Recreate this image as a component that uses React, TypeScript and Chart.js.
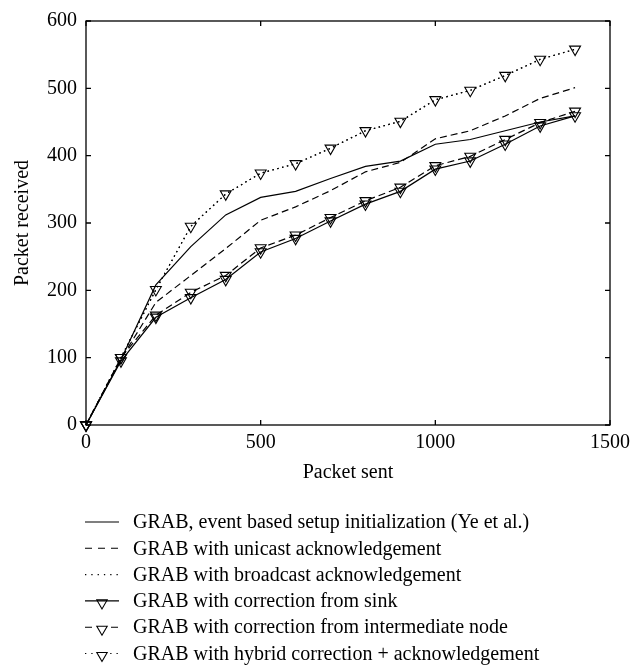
import { useEffect, useRef } from "react";
import { Chart, registerables } from "chart.js";

Chart.register(...registerables);

const packetsSent = [0, 100, 200, 300, 400, 500, 600, 700, 800, 900, 1000, 1100, 1200, 1300, 1400];
const eventBased = [0, 97, 208, 265, 312, 338, 347, 366, 384, 392, 417, 424, 437, 450, 459];
const unicastAck = [0, 98, 182, 222, 262, 304, 324, 348, 376, 390, 425, 437, 459, 485, 501];
const broadcastAck = [0, 100, 201, 295, 343, 374, 388, 411, 437, 451, 483, 497, 519, 543, 558];
const sinkCorrection = [0, 95, 160, 189, 216, 257, 277, 303, 328, 347, 380, 392, 417, 444, 459];
const intermediateCorrection = [0, 100, 163, 197, 222, 263, 282, 308, 333, 353, 385, 399, 424, 449, 466];
const hybridCorrection = [0, 100, 201, 295, 343, 374, 388, 411, 437, 451, 483, 497, 519, 543, 558];

const xTicks = [0, 500, 1000, 1500];
const yTicks = [0, 100, 200, 300, 400, 500, 600];

const seriesLabels = [
  "GRAB, event based setup initialization (Ye et al.)",
  "GRAB with unicast acknowledgement",
  "GRAB with broadcast acknowledgement",
  "GRAB with correction from sink",
  "GRAB with correction from intermediate node",
  "GRAB with hybrid correction + acknowledgement",
];

const FONT = '"Liberation Serif", "Times New Roman", serif';
const FONT_SIZE = 20;
const DASH = [7, 4];
const DOT = [1.5, 3.5];
const NONE: number[] = [];
const LEGEND_DASH = [7, 6];
const LEGEND_DOT = [1.3, 5];

function drawTriangle(ctx: CanvasRenderingContext2D, cx: number, cy: number, r: number) {
  ctx.beginPath();
  ctx.moveTo(cx, cy + r);
  ctx.lineTo(cx - r * 0.866, cy - r * 0.5);
  ctx.lineTo(cx + r * 0.866, cy - r * 0.5);
  ctx.closePath();
  ctx.stroke();
}

const framePlugin = {
  id: "frameTicks",
  afterDraw(chart: any) {
    const { ctx, chartArea, scales } = chart;
    const { left, right, top, bottom } = chartArea;
    ctx.save();
    ctx.strokeStyle = "#000";
    ctx.lineWidth = 1.3;
    ctx.setLineDash([]);
    ctx.strokeRect(left, top, right - left, bottom - top);
    const tl = 5;
    ctx.beginPath();
    for (const v of xTicks) {
      const px = scales.x.getPixelForValue(v);
      ctx.moveTo(px, bottom);
      ctx.lineTo(px, bottom - tl);
      ctx.moveTo(px, top);
      ctx.lineTo(px, top + tl);
    }
    for (const v of yTicks) {
      const py = scales.y.getPixelForValue(v);
      ctx.moveTo(left, py);
      ctx.lineTo(left + tl, py);
      ctx.moveTo(right, py);
      ctx.lineTo(right - tl, py);
    }
    ctx.stroke();

    // legend
    const x0 = 85;
    const x1 = 119;
    const tx = 133;
    const y0 = 522;
    const gap = 26.3;
    ctx.font = `${FONT_SIZE}px ${FONT}`;
    ctx.textBaseline = "middle";
    ctx.fillStyle = "#000";
    chart.data.datasets.forEach((ds: any, i: number) => {
      const y = y0 + i * gap;
      ctx.lineWidth = 1.1;
      ctx.setLineDash(ds.legendDash || []);
      ctx.beginPath();
      ctx.moveTo(x0, y);
      ctx.lineTo(x1, y);
      ctx.stroke();
      ctx.setLineDash([]);
      if (ds.pointRadius > 0) {
        const cx = (x0 + x1) / 2;
        if ((ds.legendDash || []).length) {
          ctx.fillStyle = "#fff";
          ctx.fillRect(cx - 6, y - 2, 12, 8);
          ctx.fillStyle = "#000";
        }
        drawTriangle(ctx, cx, y + 2, 6);
      }
      ctx.fillText(ds.label, tx, y + 1);
    });
    ctx.restore();
  },
};

export default function App() {
  const ref = useRef<HTMLCanvasElement>(null);

  useEffect(() => {
    if (!ref.current) return;
    const mk = (label: string, values: number[], dash: number[], legendDash: number[], marker: boolean) => ({
      label,
      data: packetsSent.map((x, i) => ({ x, y: values[i] })),
      borderColor: "#000",
      borderWidth: 1.2,
      borderDash: dash,
      legendDash,
      pointStyle: "triangle",
      pointRotation: 180,
      pointRadius: marker ? 6.3 : 0,
      pointHoverRadius: marker ? 6.3 : 0,
      pointBorderColor: "#000",
      pointBackgroundColor: "rgba(0,0,0,0)",
      pointBorderWidth: 1.1,
      fill: false,
      tension: 0,
      clip: false,
    });

    const tickFont = { family: FONT, size: FONT_SIZE };

    const chart = new Chart(ref.current, {
      type: "line",
      data: {
        datasets: [
          mk(seriesLabels[0], eventBased, NONE, NONE, false),
          mk(seriesLabels[1], unicastAck, DASH, LEGEND_DASH, false),
          mk(seriesLabels[2], broadcastAck, DOT, LEGEND_DOT, false),
          mk(seriesLabels[3], sinkCorrection, NONE, NONE, true),
          mk(seriesLabels[4], intermediateCorrection, DASH, LEGEND_DASH, true),
          mk(seriesLabels[5], hybridCorrection, DOT, LEGEND_DOT, true),
        ] as any,
      },
      options: {
        animation: false,
        responsive: false,
        layout: { padding: { left: 0, top: 12, right: 34, bottom: 174 } },
        plugins: { legend: { display: false }, tooltip: { enabled: false } },
        scales: {
          x: {
            type: "linear",
            min: 0,
            max: 1500,
            afterBuildTicks: (s: any) => {
              s.ticks = xTicks.map((v) => ({ value: v }));
            },
            afterFit: (s: any) => {
              s.height = 70;
            },
            grid: { display: false, drawTicks: false },
            border: { display: false },
            ticks: {
              color: "#000",
              font: tickFont,
              padding: 6,
              maxRotation: 0,
              callback: (v: any) => String(v),
            },
            title: {
              display: true,
              text: "Packet sent",
              color: "#000",
              font: tickFont,
              padding: { top: 0, bottom: 10 },
            },
          },
          y: {
            type: "linear",
            min: 0,
            max: 600,
            afterBuildTicks: (s: any) => {
              s.ticks = yTicks.map((v) => ({ value: v }));
            },
            afterFit: (s: any) => {
              s.width = 86;
            },
            grid: { display: false, drawTicks: false },
            border: { display: false },
            ticks: { color: "#000", font: tickFont, padding: 9, callback: (v: any) => String(v) },
            title: {
              display: true,
              text: "Packet received",
              color: "#000",
              font: tickFont,
              padding: { top: 11, bottom: 0 },
            },
          },
        },
      },
      plugins: [framePlugin],
    } as any);
    return () => chart.destroy();
  }, []);

  return (
    <div style={{ position: "absolute", left: 0, top: 0, width: 644, height: 669, background: "#fff" }}>
      <canvas ref={ref} width={644} height={669} style={{ width: 644, height: 669, display: "block" }} />
    </div>
  );
}
